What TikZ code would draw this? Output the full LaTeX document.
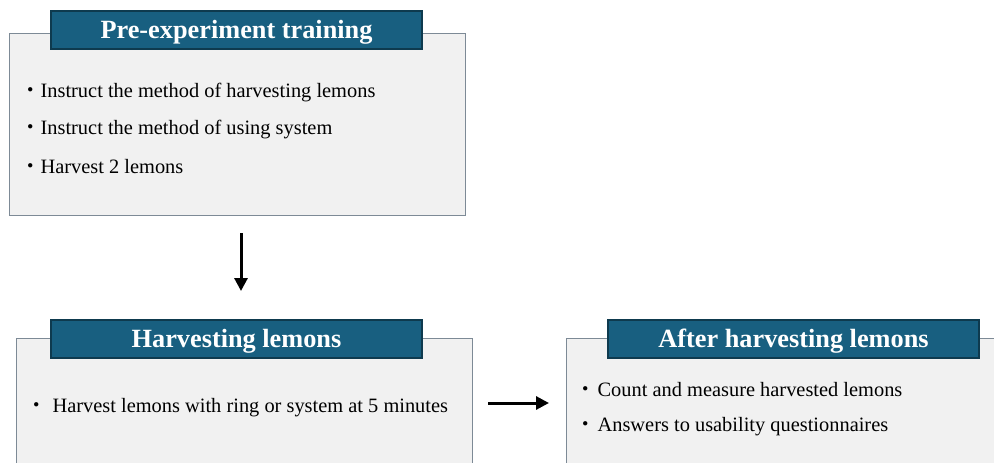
\documentclass[tikz,border=0pt]{standalone}
\usepackage{fontspec}
\setmainfont{Liberation Serif}
\newfontfamily\cjk{Noto Sans CJK JP}
\definecolor{titlefill}{HTML}{185F80}
\definecolor{titledraw}{HTML}{0E3A4E}
\definecolor{boxfill}{HTML}{F1F1F1}
\definecolor{boxdraw}{HTML}{7D8A96}
\tikzset{
  panel/.style={draw=boxdraw, fill=boxfill, line width=0.9pt},
  titlebar/.style={draw=titledraw, fill=titlefill, line width=1.2pt},
  titletext/.style={text=white, font=\fontsize{26.3}{28}\selectfont\bfseries, inner sep=0pt},
  itemtext/.style={anchor=west, font=\fontsize{20.4}{22}\selectfont, inner sep=0pt},
  flow/.style={-{Triangle[length=13pt,width=13pt]}, line width=3pt},
}
\usetikzlibrary{arrows.meta}
\newcommand{\bul}{{\cjk ・}}
\begin{document}
\begin{tikzpicture}[x=1pt,y=-1pt]
\useasboundingbox (0,0) rectangle (994,463);
\begin{scope}
\clip (0,0) rectangle (994,463);
% Box 1
\draw[panel] (9,33) rectangle (465,215);
\draw[titlebar] (51,11) rectangle (422,49);
\node[titletext] (t1) at (236.5,32) {Pre-experiment training};
\node[itemtext] (a1) at (20,93) {\bul Instruct the method of harvesting lemons};
\node[itemtext] (a2) at (20,130) {\bul Instruct the method of using system};
\node[itemtext] (a3) at (20,167) {\bul Harvest 2 lemons};
% Box 2
\draw[panel] (16,338) rectangle (472,480);
\draw[titlebar] (51,320) rectangle (422,358);
\node[titletext] (t2) at (236.5,341) {Harvesting lemons};
\node[itemtext] (b1) at (26,408) {\bul\hspace{6pt}Harvest lemons with ring or system at 5 minutes};
% Box 3
\draw[panel] (566,338) rectangle (1010,480);
\draw[titlebar] (608,320) rectangle (979,358);
\node[titletext] (t3) at (793.5,341) {After harvesting lemons};
\node[itemtext] (c1) at (575,390) {\bul\hspace{2pt}Count and measure harvested lemons};
\node[itemtext] (c2) at (575,427) {\bul\hspace{2pt}Answers to usability questionnaires};
% arrows
\coordinate (d1) at (241,233);
\coordinate (d2) at (241,291);
\coordinate (r1) at (488,403);
\coordinate (r2) at (549,403);
\draw[flow] (d1) -- (d2);
\draw[flow] (r1) -- (r2);
\end{scope}
\end{tikzpicture}
\end{document}
